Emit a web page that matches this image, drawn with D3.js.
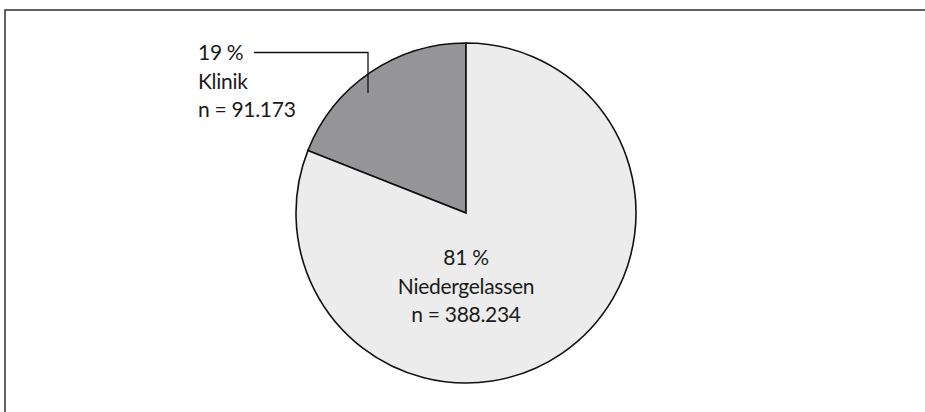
<!DOCTYPE html>
<html>
<head>
<meta charset="utf-8">
<script src="https://cdn.jsdelivr.net/npm/d3@7"></script>
<style>
  html, body { margin: 0; padding: 0; background: #fff; }
  svg { display: block; }
  text { font-family: Lato, "Open Sans", sans-serif; font-size: 21px; letter-spacing: -0.3px; fill: #1a1a1a; }
</style>
</head>
<body>
<svg id="chart" width="925" height="412"></svg>
<script>
const categories = ["Klinik", "Niedergelassen"];
const counts = [91173, 388234];
const percentLabels = ["19 %", "81 %"];
const countLabels = ["n = 91.173", "n = 388.234"];
const colors = ["#959497", "#ebeceb"];

const svg = d3.select("#chart");

// frame (top and left edges visible)
svg.append("rect")
  .attr("x", 5).attr("y", 10)
  .attr("width", 930).attr("height", 420)
  .attr("fill", "none").attr("stroke", "#3a3a3a").attr("stroke-width", 1.6);

const cx = 466, cy = 213, r = 170;
const g = svg.append("g").attr("transform", `translate(${cx},${cy})`);

const data = categories.map((c, i) => ({ cat: c, value: counts[i], pct: percentLabels[i], n: countLabels[i], color: colors[i] }));

const total = d3.sum(counts);
const pie = d3.pie().value(d => d.value).sort(null)
  .startAngle(-2 * Math.PI * counts[0] / total)
  .endAngle(2 * Math.PI - 2 * Math.PI * counts[0] / total);
const arcs = pie(data);
const arc = d3.arc().innerRadius(0).outerRadius(r);

g.selectAll("path.slice").data(arcs).join("path")
  .attr("class", "slice")
  .attr("d", arc)
  .attr("fill", d => d.data.color)
  .attr("stroke", "#111")
  .attr("stroke-width", 1.6)
  .attr("stroke-linejoin", "miter");

const big = arcs[1];
const lbl = g.append("text").attr("text-anchor", "middle");
[big.data.pct, big.data.cat, big.data.n].forEach((t, i) => {
  lbl.append("tspan").attr("x", 0).attr("y", 52 + i * 28.5).text(t);
});

const small = arcs[0];
const tx = 198 - cx, ty0 = 60 - cy;
const ext = g.append("text").attr("text-anchor", "start");
[small.data.pct, small.data.cat, small.data.n].forEach((t, i) => {
  ext.append("tspan").attr("x", tx).attr("y", ty0 + i * 28.5).text(t);
});

const lx = 368 - cx;
g.append("path")
  .attr("d", d3.line()([[254 - cx, 52.5 - cy], [lx, 52.5 - cy], [lx, 93 - cy]]))
  .attr("fill", "none").attr("stroke", "#111").attr("stroke-width", 1.3);
</script>
</body>
</html>
